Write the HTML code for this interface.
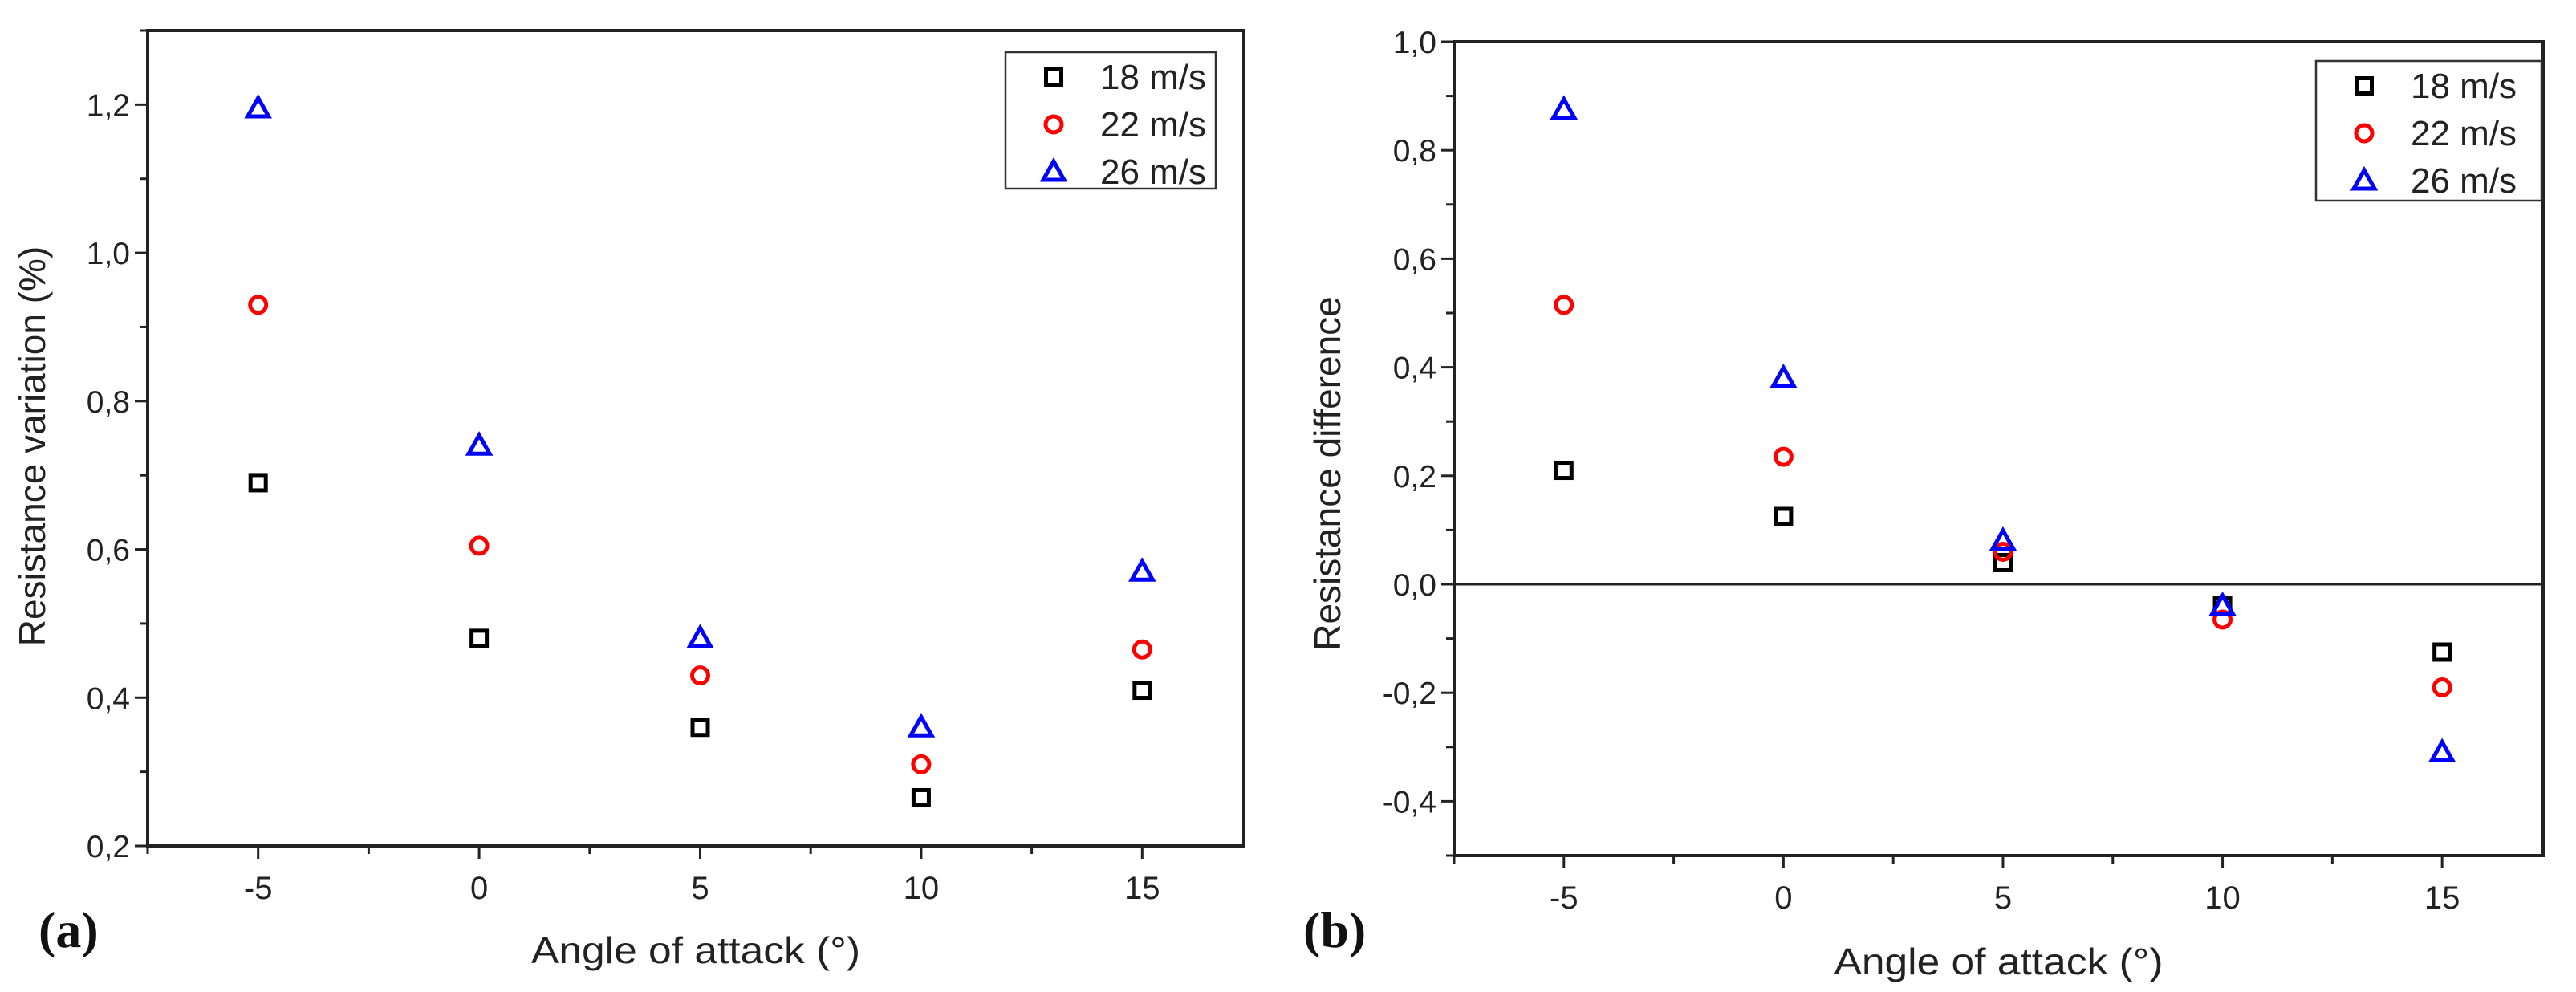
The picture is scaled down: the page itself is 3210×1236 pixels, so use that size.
<!DOCTYPE html>
<html><head><meta charset="utf-8"><style>
html,body{margin:0;padding:0;background:#fff}
svg{display:block;font-family:"Liberation Sans",Arial,sans-serif}
</style></head><body>
<svg id="fig" width="3210" height="1236" viewBox="0 0 3210 1236" xmlns="http://www.w3.org/2000/svg"></svg>
<script>
const categories = [-5, 0, 5, 10, 15];
const seriesNames = ["18 m/s", "22 m/s", "26 m/s"];
const a18 = [0.69, 0.48, 0.36, 0.265, 0.41];
const a22 = [0.93, 0.605, 0.43, 0.31, 0.465];
const a26 = [1.195, 0.74, 0.48, 0.36, 0.57];
const b18 = [0.21, 0.125, 0.04, -0.04, -0.125];
const b22 = [0.515, 0.235, 0.06, -0.065, -0.19];
const b26 = [0.875, 0.38, 0.08, -0.04, -0.31];
const xTicks = [-5, 0, 5, 10, 15];
const aYTicks = [0.2, 0.4, 0.6, 0.8, 1.0, 1.2];
const bYTicks = [-0.4, -0.2, 0.0, 0.2, 0.4, 0.6, 0.8, 1.0];

const NS = "http://www.w3.org/2000/svg";
const svg = document.getElementById("fig");
function mk(tag, attrs, parent) {
  const e = document.createElementNS(NS, tag);
  for (const k in attrs) e.setAttribute(k, attrs[k]);
  (parent || svg).appendChild(e);
  return e;
}
const fmt = v => v.toFixed(1).replace(".", ",").replace("-0,0", "0,0");

function panel(cfg) {
  const g = mk("g", {});
  
  
  const X = v => cfg.L + (v - cfg.xmin) / (cfg.xmax - cfg.xmin) * (cfg.R - cfg.L);
  const Y = v => cfg.B - (v - cfg.ymin) / (cfg.ymax - cfg.ymin) * (cfg.B - cfg.T);
  const frame = mk("rect", {x: cfg.L, y: cfg.T, width: cfg.R - cfg.L, height: cfg.B - cfg.T, fill: "none", stroke: "#222", "stroke-width": 4}, g);
  
  
  for (let v = -7.5; v <= cfg.xmax + 0.01; v += 2.5) {
    const major = xTicks.includes(v);
    mk("line", {x1: X(v), x2: X(v), y1: cfg.B, y2: cfg.B + (major ? 16 : 10), stroke: "#222", "stroke-width": 3}, g);
  }
  xTicks.forEach(v => {
    const t = mk("text", {x: X(v), y: cfg.B + 66, "font-size": 40, "text-anchor": "middle", fill: "#222"}, g);
    t.textContent = String(v);
    
    
  });
  for (let v = cfg.ymin; v <= cfg.ymax + 1e-6; v += 0.1) {
    const major = cfg.yTicks.some(t => Math.abs(t - v) < 1e-6);
    mk("line", {x1: cfg.L, x2: cfg.L - (major ? 16 : 10), y1: Y(v), y2: Y(v), stroke: "#222", "stroke-width": 3}, g);
  }
  cfg.yTicks.forEach(v => {
    const t = mk("text", {x: cfg.L - 22, y: Y(v) + 14, "font-size": 39, "text-anchor": "end", fill: "#222"}, g);
    t.textContent = fmt(v);
    
    
  });
  if (cfg.zeroLine) {
    const z = mk("line", {x1: cfg.L, x2: cfg.R, y1: Y(0), y2: Y(0), stroke: "#222", "stroke-width": 3}, g);
    
    
  }
  const xt = mk("text", {x: (cfg.L + cfg.R) / 2, y: cfg.xtY, "font-size": 46, "text-anchor": "middle", fill: "#222", textLength: cfg.xtLen, lengthAdjust: "spacingAndGlyphs"}, g);
  xt.textContent = "Angle of attack (°)";
  
  
  const yt = mk("text", {x: 0, y: 0, "font-size": 46, "text-anchor": "middle", fill: "#222", transform: `translate(${cfg.ytX},${cfg.ytY}) rotate(-90)`}, g);
  yt.textContent = cfg.ytitle;
  
  
  const lab = mk("text", {x: cfg.labX, y: 1180, "font-size": 64, "font-weight": "bold", fill: "#111", "font-family": "Liberation Serif, serif"}, g);
  lab.textContent = cfg.label;
  
  

  function marker(kind, cx, cy, parent) {
    let m;
    if (kind === 0) m = mk("rect", {x: cx - 9.5, y: cy - 9.5, width: 19, height: 19, fill: "none", stroke: "#000", "stroke-width": 5}, parent);
    else if (kind === 1) m = mk("circle", {cx, cy, r: 10, fill: "none", stroke: "#f00", "stroke-width": 5}, parent);
    else m = mk("polygon", {points: `${cx},${cy - 13} ${cx + 13},${cy + 10} ${cx - 13},${cy + 10}`, fill: "none", stroke: "#00f", "stroke-width": 5}, parent);
    return m;
  }
  cfg.series.forEach((vals, si) => {
    vals.forEach((v, i) => {
      const m = marker(si, X(categories[i]), Y(v), g);
      
      
    });
  });
  const lg = mk("g", {}, g);
  
  
  mk("rect", {x: cfg.lg[0], y: cfg.lg[1], width: cfg.lg[2], height: cfg.lg[3], fill: "#fff", stroke: "#333", "stroke-width": 2.5}, lg);
  seriesNames.forEach((n, si) => {
    const cy = cfg.lg[1] + 31 + si * 59;
    marker(si, cfg.lg[0] + 60, cy, lg);
    const t = mk("text", {x: cfg.lg[0] + 118, y: cy + 15, "font-size": 44, fill: "#222"}, lg);
    t.textContent = n;
    
    
  });
}

panel({name: "chart-a", L: 184, R: 1550, T: 38, B: 1054, xmin: -7.5, xmax: 17.3, ymin: 0.2, ymax: 1.3,
  yTicks: aYTicks, series: [a18, a22, a26], ytitle: "Resistance variation (%)", ytX: 56, ytY: 556, xtY: 1200, xtLen: 410,
  label: "(a)", labX: 48, lg: [1253, 65, 262, 170], zeroLine: false});
panel({name: "chart-b", L: 1812, R: 3169, T: 52, B: 1066, xmin: -7.5, xmax: 17.3, ymin: -0.5, ymax: 1.0,
  yTicks: bYTicks, series: [b18, b22, b26], ytitle: "Resistance difference", ytX: 1670, ytY: 590, xtY: 1214, xtLen: 410,
  label: "(b)", labX: 1624, lg: [2886, 76, 281, 174], zeroLine: true});
</script>
</body></html>
